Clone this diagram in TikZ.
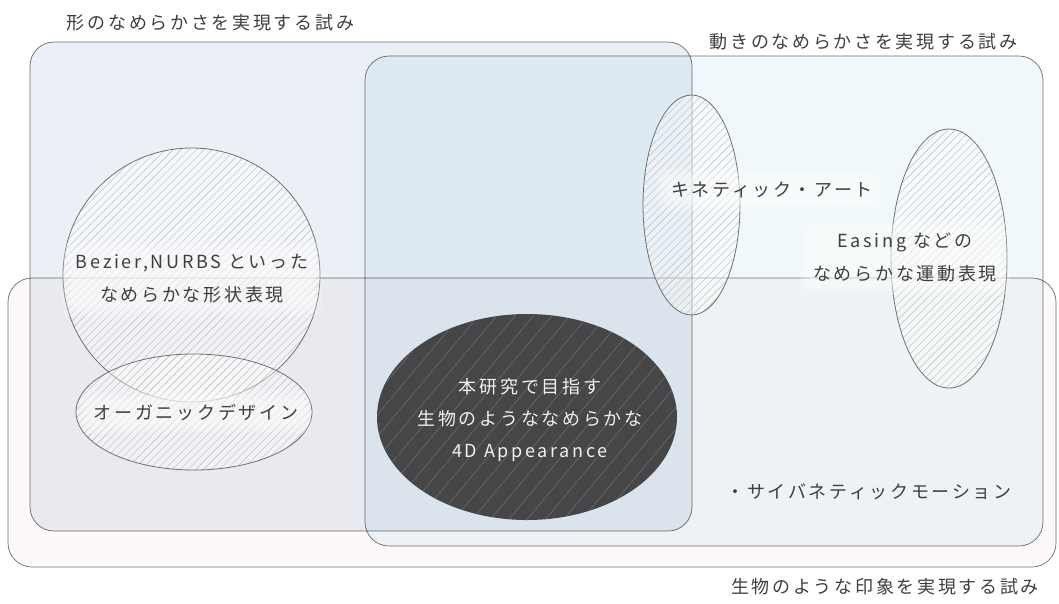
\documentclass[tikz,border=0pt]{standalone}
\usepackage{fontspec}
\setmainfont{Noto Sans CJK JP}[LetterSpace=15]
\usetikzlibrary{shapes.geometric,patterns.meta}
\pgfdeclarelayer{front}
\pgfsetlayers{main,front}
\definecolor{txt}{HTML}{3E3E3E}
\definecolor{rA}{HTML}{EBF0F7}
\definecolor{rB}{HTML}{F0F8FB}
\definecolor{rC}{HTML}{FDF9F8}
\definecolor{edge}{HTML}{707070}
\definecolor{dark}{HTML}{464547}
\definecolor{darkline}{HTML}{6C6C6E}
\newcommand\glowat[1]{\foreach \g in {2,6,11}{\fill[white, opacity=0.22, rounded corners=9pt] ([shift={(-\g pt,-\g pt)}]#1.south west) rectangle ([shift={(\g pt,\g pt)}]#1.north east);}}
\begin{document}
\begin{tikzpicture}[x=1pt,y=-1pt,
  area/.style={rectangle, draw=edge, line width=0.7pt, rounded corners=24pt, blend mode=multiply, inner sep=0pt},
  hatch/.style={ellipse, draw=edge, line width=0.8pt, inner sep=0pt,
    preaction={fill=white, fill opacity=0.4},
    pattern={Lines[angle=45,distance=5.5pt,line width=0.4pt]}, pattern color=gray!55},
  lbl/.style={text=txt, font=\fontsize{18}{33}\selectfont, align=center, inner sep=2pt}]
\useasboundingbox (0,0) rectangle (1059,603);
% areas
\node[area, fill=rA, minimum width=662pt, minimum height=489pt] (formA) at (361,286.5) {};
\node[area, fill=rB, minimum width=678pt, minimum height=490pt] (moveB) at (704,301) {};
\node[area, fill=rC, minimum width=1048pt, minimum height=289pt] (lifeC) at (532,422.5) {};
% ellipses
\node[hatch, minimum width=257pt, minimum height=254pt] (bez) at (191.5,275) {};
\node[hatch, minimum width=236pt, minimum height=116pt] (org) at (194,412) {};
\node[hatch, minimum width=97pt, minimum height=220pt] (kin) at (691.5,205) {};
\node[hatch, minimum width=116pt, minimum height=259pt] (eas) at (949,258.5) {};
\node[ellipse, inner sep=0pt, minimum width=300pt, minimum height=206pt,
  preaction={fill=dark},
  pattern={Lines[angle=50,distance=14pt,line width=0.6pt]}, pattern color=darkline] (goal) at (527,417) {};
% texts
\begin{pgfonlayer}{front}
\node[lbl] (tA) at (210.5,23) {形のなめらかさを実現する試み};
\node[lbl] (tB) at (863.5,42) {動きのなめらかさを実現する試み};
\node[lbl] (tC) at (885,587) {生物のような印象を実現する試み};
\node[lbl] (tbez) at (192,279) {Bezier,NURBS といった\\なめらかな形状表現};
\node[lbl] (torg) at (196,412) {オーガニックデザイン};
\node[lbl] (tkin) at (772,190) {キネティック・アート};
\node[lbl] (teas) at (905,257.5) {Easing などの\\なめらかな運動表現};
\node[lbl, text=white!94!black, font=\fontsize{18}{32}\selectfont] (tgoal) at (530,420) {本研究で目指す\\生物のようななめらかな\\4D Appearance};
\node[lbl] (tcyb) at (869,492) {・サイバネティックモーション};
\end{pgfonlayer}
\glowat{tbez}
\glowat{torg}
\glowat{tkin}
\glowat{teas}
\end{tikzpicture}
\end{document}
